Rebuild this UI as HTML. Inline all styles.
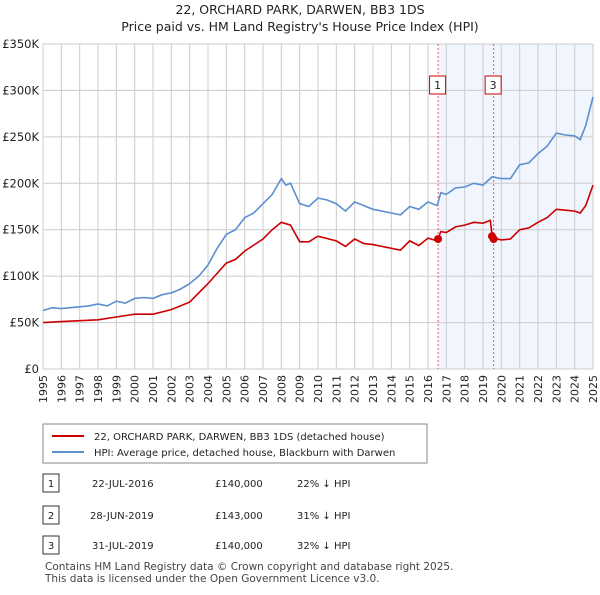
<!DOCTYPE html>
<html><head><meta charset="utf-8"><style>
body{margin:0;background:#fff;font-family:"Liberation Sans","DejaVu Sans",sans-serif;}
svg text{font-family:"DejaVu Sans","Liberation Sans",sans-serif;}
</style></head><body>
<svg id="c" width="600" height="590" xmlns="http://www.w3.org/2000/svg">
<text x="300" y="14" text-anchor="middle" font-size="12.5" fill="#222">22, ORCHARD PARK, DARWEN, BB3 1DS</text>
<text x="300" y="31" text-anchor="middle" font-size="12.5" fill="#222">Price paid vs. HM Land Registry's House Price Index (HPI)</text>
<g id="plot"></g>
<rect x="43" y="424" width="384" height="39" fill="#fff" stroke="#888"/>
<line x1="52" y1="436" x2="84" y2="436" stroke="#cc0000" stroke-width="2"/>
<text x="94" y="440" font-size="10" fill="#222">22, ORCHARD PARK, DARWEN, BB3 1DS (detached house)</text>
<line x1="52" y1="452" x2="84" y2="452" stroke="#5b8fd0" stroke-width="2"/>
<text x="94" y="456" font-size="10" fill="#222">HPI: Average price, detached house, Blackburn with Darwen</text>
<g font-size="10" fill="#222">
<rect x="43" y="474" width="16" height="18" fill="#fff" stroke="#333"/><text x="51" y="487" text-anchor="middle">1</text>
<text x="92" y="487">22-JUL-2016</text><text x="215" y="487">£140,000</text><text x="297" y="487">22% ↓ HPI</text>
<rect x="43" y="506" width="16" height="18" fill="#fff" stroke="#333"/><text x="51" y="519" text-anchor="middle">2</text>
<text x="90" y="519">28-JUN-2019</text><text x="215" y="519">£143,000</text><text x="297" y="519">31% ↓ HPI</text>
<rect x="43" y="536" width="16" height="18" fill="#fff" stroke="#333"/><text x="51" y="549" text-anchor="middle">3</text>
<text x="92" y="549">31-JUL-2019</text><text x="215" y="549">£140,000</text><text x="297" y="549">32% ↓ HPI</text>
</g>
<text x="45" y="570" font-size="10.5" fill="#444">Contains HM Land Registry data © Crown copyright and database right 2025.</text>
<text x="45" y="582" font-size="10.5" fill="#444">This data is licensed under the Open Government Licence v3.0.</text>
</svg>
<script>
const yTicks=[0,50,100,150,200,250,300,350];
const yLabels=["£0","£50K","£100K","£150K","£200K","£250K","£300K","£350K"];
const years=[1995,1996,1997,1998,1999,2000,2001,2002,2003,2004,2005,2006,2007,2008,2009,2010,2011,2012,2013,2014,2015,2016,2017,2018,2019,2020,2021,2022,2023,2024,2025];
const hpiX=[1995,1995.5,1996,1996.5,1997,1997.5,1998,1998.5,1999,1999.5,2000,2000.5,2001,2001.5,2002,2002.5,2003,2003.5,2004,2004.5,2005,2005.5,2006,2006.5,2007,2007.5,2008,2008.25,2008.5,2009,2009.5,2010,2010.5,2011,2011.5,2012,2012.5,2013,2013.5,2014,2014.5,2015,2015.5,2016,2016.5,2016.7,2017,2017.5,2018,2018.5,2019,2019.5,2020,2020.5,2021,2021.5,2022,2022.5,2023,2023.5,2024,2024.3,2024.6,2025];
const hpiY=[63,66,65,66,67,68,70,68,73,71,76,77,76,80,82,86,92,100,112,130,145,150,163,168,178,188,205,198,200,178,175,184,182,178,170,180,176,172,170,168,166,175,172,180,176,190,188,195,196,200,198,207,205,205,220,222,232,240,254,252,251,247,262,293];
const priceX=[1995,1996,1997,1998,1999,2000,2001,2002,2003,2004,2005,2005.5,2006,2007,2007.5,2008,2008.5,2009,2009.5,2010,2011,2011.5,2012,2012.5,2013,2014,2014.5,2015,2015.5,2016,2016.5,2016.7,2017,2017.5,2018,2018.5,2019,2019.4,2019.5,2019.8,2020,2020.5,2021,2021.5,2022,2022.5,2023,2023.5,2024,2024.3,2024.6,2025];
const priceY=[50,51,52,53,56,59,59,64,72,92,114,118,127,140,150,158,155,137,137,143,138,132,140,135,134,130,128,138,133,141,138,148,147,153,155,158,157,160,143,140,139,140,150,152,158,163,172,171,170,168,176,198];
const saleX=[2016.55,2019.49,2019.58];
const saleY=[140,143,140];
const saleLabels=["1","2","3"];
const NS="http://www.w3.org/2000/svg";
const L=43,R=593,T=44,B=369;
const sx=v=>L+(v-1995)/30*(R-L);
const sy=v=>B-v/350*(B-T);
const g=document.getElementById('plot');
function mk(t,a){const e=document.createElementNS(NS,t);for(const k in a)e.setAttribute(k,a[k]);g.appendChild(e);return e;}
let sh=mk('rect',{x:sx(2016.55),y:T,width:R-sx(2016.55),height:B-T,fill:'#eef3fc',opacity:0.8});


years.forEach(y=>{let l=mk('line',{x1:sx(y),x2:sx(y),y1:T,y2:B,stroke:'#ccc'});


let t=mk('text',{x:sx(y)+4,y:B+6,'font-size':11,fill:'#222',transform:`rotate(-90 ${sx(y)+4} ${B+6})`,'text-anchor':'end'});t.textContent=y;

});
yTicks.forEach((v,i)=>{let l=mk('line',{x1:L,x2:R,y1:sy(v),y2:sy(v),stroke:'#ccc'});


let t=mk('text',{x:L-4,y:sy(v)+4,'font-size':11.5,fill:'#222','text-anchor':'end'});t.textContent=yLabels[i];

});
[saleX[0],saleX[2]].forEach(x=>{let l=mk('line',{x1:sx(x),x2:sx(x),y1:T,y2:B,stroke:'#ee5555','stroke-dasharray':'2,2'});

});
function path(xs,ys,c,n){let d=xs.map((x,i)=>(i?'L':'M')+sx(x).toFixed(1)+','+sy(ys[i]).toFixed(1)).join('');
let p=mk('path',{d:d,fill:'none',stroke:c,'stroke-width':1.6});

}
path(hpiX,hpiY,'#5b8fd0','hpi-line');
path(priceX,priceY,'#cc0000','price-line');
saleX.forEach((x,i)=>{let c=mk('circle',{cx:sx(x),cy:sy(saleY[i]),r:4,fill:'#cc0000'});

});
[[0,'1'],[2,'3']].forEach(([i,lab])=>{let x=sx(saleX[i]);
let r=mk('rect',{x:x-8.5,y:76,width:16,height:18,fill:'#fff',stroke:'#cc0000'});


let t=mk('text',{x:x-0.5,y:89,'font-size':11,'text-anchor':'middle',fill:'#222'});t.textContent=lab;

});
</script>
</body></html>
